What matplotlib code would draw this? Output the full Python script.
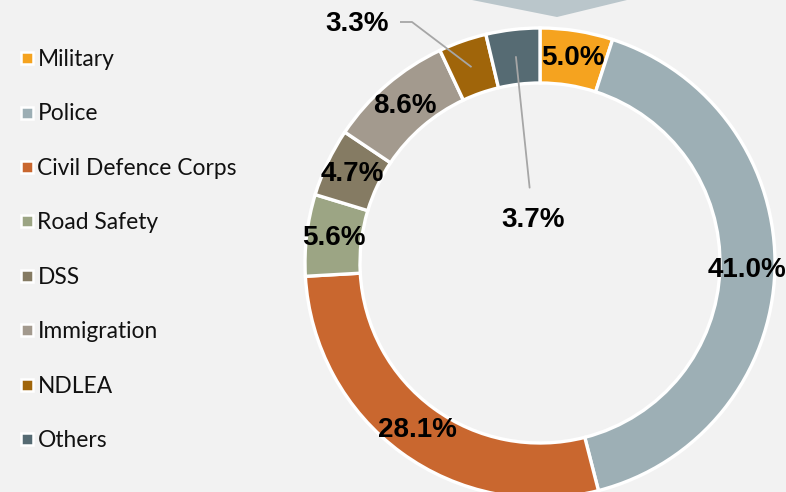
import matplotlib
matplotlib.use("Agg")
import matplotlib.pyplot as plt
from matplotlib.lines import Line2D
from matplotlib.patches import Polygon
import numpy as np

categories = ["Military", "Police", "Civil Defence Corps", "Road Safety", "DSS",
              "Immigration", "NDLEA", "Others"]
values = [5.0, 41.0, 28.1, 5.6, 4.7, 8.6, 3.3, 3.7]
labels = ["5.0%", "41.0%", "28.1%", "5.6%", "4.7%", "8.6%", "3.3%", "3.7%"]
colors = ["#F5A31F", "#9DAFB5", "#C9672F", "#9CA584", "#857B63", "#A39A8E",
          "#A0650A", "#566B73"]

W, H = 786, 492
BG = "#F2F2F2"
fig = plt.figure(figsize=(W / 100, H / 100), dpi=100, facecolor=BG)
ax = fig.add_axes([0, 0, 1, 1])
ax.set_facecolor(BG)

cx, cy = 540, H - 263
R_out, R_in = 235, 180
wedges, _ = ax.pie(values, colors=colors, startangle=90, counterclock=False,
                   center=(cx, cy), radius=R_out, frame=True,
                   wedgeprops=dict(width=R_out - R_in, edgecolor="white", linewidth=2.4))
ax.set_xlim(0, W)
ax.set_ylim(0, H)
ax.set_aspect("equal")
ax.axis("off")

# callout shape at top
ax.add_patch(Polygon([(472, H), (627, H), (557, H - 17)], closed=True,
                     facecolor="#BAC6CB", edgecolor="none", zorder=0))

r_lab = (R_out + R_in) / 2
lab_font = dict(fontsize=20, fontweight="bold", family="Liberation Sans", color="black")
outside = {"3.3%": (357, H - 24), "3.7%": (533, H - 220)}
for w, lab in zip(wedges, labels):
    ang = np.deg2rad((w.theta1 + w.theta2) / 2)
    px, py = cx + r_lab * np.cos(ang), cy + r_lab * np.sin(ang)
    if lab == "3.3%":
        tx, ty = outside[lab]
        ax.text(tx, ty, lab, ha="center", va="center", **lab_font)
        # leader: horizontal stub then to wedge
        ax.plot([tx + 43, tx + 55, px], [H - 22, H - 22, py], color="#A6A6A6", lw=1.3,
                solid_capstyle="butt", zorder=5)
    elif lab == "3.7%":
        tx, ty = outside[lab]
        ax.annotate(lab, xy=(px, py), xytext=(tx, ty), ha="center", va="center",
                    arrowprops=dict(arrowstyle="-", color="#A6A6A6", lw=1.3,
                                    shrinkA=12, shrinkB=0),
                    **lab_font)
    else:
        ax.text(px, py, lab, ha="center", va="center", **lab_font)

handles = [Line2D([], [], linestyle="none", marker="s", markersize=8,
                  markerfacecolor=c, markeredgecolor="white", markeredgewidth=1.8)
           for c in colors]
leg = ax.legend(handles, categories, loc="upper left", bbox_to_anchor=(21 / W, 1 - 49 / H),
                bbox_transform=fig.transFigure, frameon=False, prop=dict(family="Lato", size=16.4),
                handlelength=0.5, handletextpad=0.22, labelspacing=1.47, borderaxespad=0,
                borderpad=0)
for t in leg.get_texts():
    t.set_color("#111111")

fig.savefig("out.png", dpi=100, facecolor=BG)
